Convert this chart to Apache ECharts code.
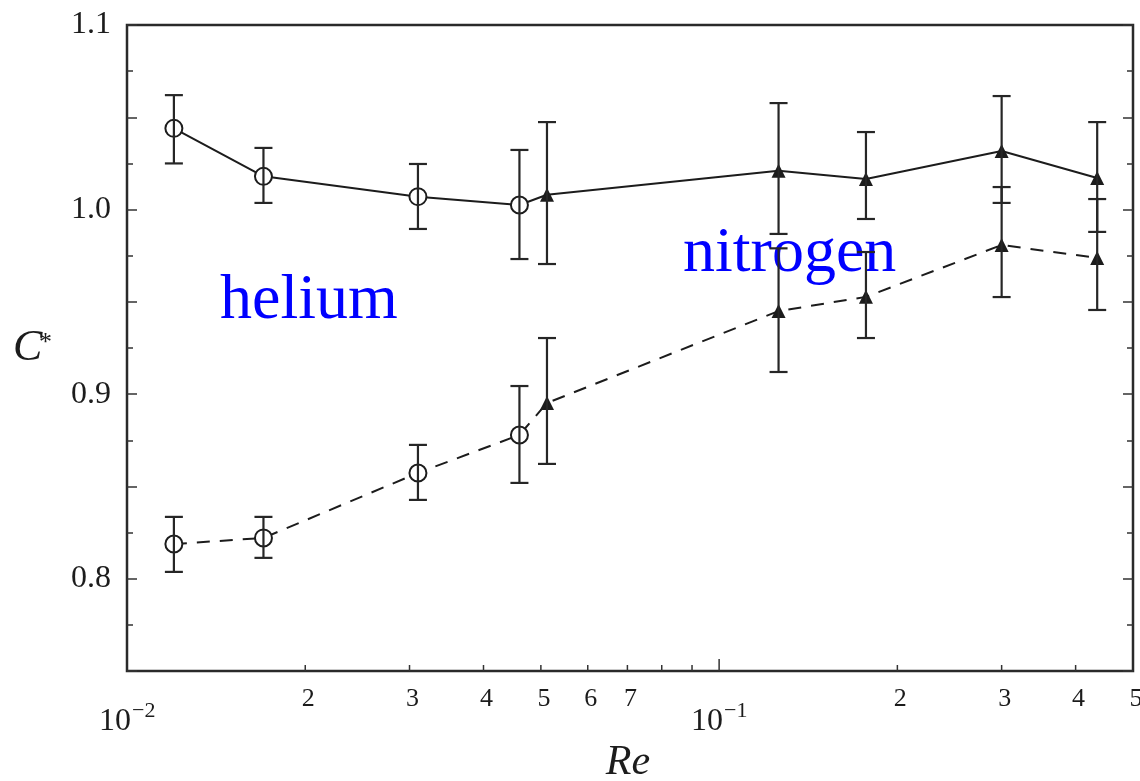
<!DOCTYPE html>
<html>
<head>
<meta charset="utf-8">
<script src="https://cdn.jsdelivr.net/npm/echarts@6/dist/echarts.min.js"></script>
<style>
  html, body { margin: 0; padding: 0; background: #fff; }
  #container { width: 1140px; height: 781px; }
</style>
</head>
<body>
<div id="container"></div>
<script>
// --- data ---
var reVals = [0.012, 0.017, 0.031, 0.046, 0.0512, 0.126, 0.177, 0.30, 0.435];
var heliumCount = 4; // first 4 points are helium (circles), rest nitrogen (triangles)

var upperC = [1.044, 1.018, 1.007, 1.0025, 1.008, 1.021, 1.0166, 1.0317, 1.0171];
var upperLow = [1.025, 1.0036, 0.9895, 0.9732, 0.9705, 0.9868, 0.9949, 1.0036, 0.9879];
var upperHigh = [1.062, 1.0334, 1.0247, 1.0323, 1.0474, 1.0577, 1.042, 1.0615, 1.0474];

var lowerC = [0.8188, 0.8221, 0.8573, 0.8779, 0.8952, 0.945, 0.9527, 0.9808, 0.9738];
var lowerLow = [0.8037, 0.8113, 0.8427, 0.8519, 0.8622, 0.912, 0.9304, 0.9526, 0.9456];
var lowerHigh = [0.8335, 0.8335, 0.8725, 0.9044, 0.9304, 0.979, 0.977, 1.0122, 1.0057];

// axis ticks / labels
var xMin = 0.01, xMax = 0.5;
var yMin = 0.75, yMax = 1.1;
var yLabelVals = [0.8, 0.9, 1.0, 1.1];
var xMinorTicks = [0.02, 0.03, 0.04, 0.05, 0.06, 0.07, 0.08, 0.09, 0.2, 0.3, 0.4];
var xDecadeTicks = [0.1];
var xMinorLabelVals = [0.02, 0.03, 0.04, 0.05, 0.06, 0.07, 0.2, 0.3, 0.4, 0.5];
var xMinorLabels = ["2", "3", "4", "5", "6", "7", "2", "3", "4", "5"];
var xDecadeLabelVals = [0.01, 0.1];
var xDecadeExp = ["\u22122", "\u22121"];

var serif = "'Liberation Serif', 'DejaVu Serif', serif";
var ink = "#1c1c1c";

function pts(ys) {
  return reVals.map(function (x, i) { return [x, ys[i]]; });
}
function bars(lo, hi) {
  return reVals.map(function (x, i) { return [x, lo[i], hi[i]]; });
}
function markerFor(v, p) {
  return p.dataIndex < heliumCount ? "emptyCircle" : "triangle";
}
function sizeFor(v, p) {
  return p.dataIndex < heliumCount ? 17 : 14;
}

function errorBar(params, api) {
  var x = api.value(0);
  var lo = api.coord([x, api.value(1)]);
  var hi = api.coord([x, api.value(2)]);
  var w = 9;
  var st = { stroke: "#262626", lineWidth: 2.2 };
  return {
    type: "group",
    children: [
      { type: "line", shape: { x1: lo[0], y1: lo[1], x2: hi[0], y2: hi[1] }, style: st },
      { type: "line", shape: { x1: hi[0] - w, y1: hi[1], x2: hi[0] + w, y2: hi[1] }, style: st },
      { type: "line", shape: { x1: lo[0] - w, y1: lo[1], x2: lo[0] + w, y2: lo[1] }, style: st }
    ]
  };
}

function tickItem(len) {
  return function (params, api) {
    var p = api.coord([api.value(0), yMin]);
    return {
      type: "line",
      shape: { x1: p[0], y1: p[1], x2: p[0], y2: p[1] - len },
      style: { stroke: "#333", lineWidth: 1.5 }
    };
  };
}

var dom = document.getElementById("container");
var myChart = echarts.init(dom);

var option = {
  backgroundColor: "#fff",
  animation: false,
  grid: {
    left: 127, right: 7, top: 25, bottom: 110,
    show: true, borderColor: "#2a2a2a", borderWidth: 2.5
  },
  xAxis: {
    type: "log",
    logBase: 10,
    min: xMin,
    max: xMax,
    axisLine: { show: false },
    axisTick: { show: false },
    axisLabel: { show: false },
    splitLine: { show: false }
  },
  yAxis: [
    {
      type: "value",
      min: yMin,
      max: yMax,
      interval: 0.05,
      axisLine: { show: false },
      axisTick: { show: true, inside: true, length: 10, lineStyle: { color: "#333", width: 1.5 } },
      minorTick: { show: true, splitNumber: 2, length: 6, lineStyle: { color: "#333", width: 1.5 } },
      splitLine: { show: false },
      axisLabel: {
        margin: 16,
        color: ink,
        fontFamily: serif,
        fontSize: 32,
        formatter: function (v) {
          for (var i = 0; i < yLabelVals.length; i++) {
            if (Math.abs(v - yLabelVals[i]) < 1e-6) return yLabelVals[i].toFixed(1);
          }
          return "";
        }
      }
    },
    {
      type: "value",
      position: "right",
      min: yMin,
      max: yMax,
      interval: 0.05,
      axisLine: { show: false },
      axisTick: { show: true, inside: true, length: 10, lineStyle: { color: "#333", width: 1.5 } },
      minorTick: { show: true, splitNumber: 2, length: 6, lineStyle: { color: "#333", width: 1.5 } },
      splitLine: { show: false },
      axisLabel: { show: false }
    }
  ],
  graphic: [
    { type: "text", left: 220, top: 269, style: { text: "helium", font: "64px " + serif, fill: "#0000ff" } },
    { type: "text", left: 683, top: 222, style: { text: "nitrogen", font: "64px " + serif, fill: "#0000ff" } },
    { type: "text", x: 628, y: 763, style: { text: "Re", font: "italic 42px " + serif, fill: ink, align: "center", verticalAlign: "middle" } },
    { type: "text", x: 13, y: 348, style: { text: "C", font: "italic 44px " + serif, fill: ink, align: "left", verticalAlign: "middle" } },
    { type: "text", x: 39, y: 343, style: { text: "*", font: "26px " + serif, fill: ink, align: "left", verticalAlign: "middle" } }
  ],
  series: [
    {
      name: "C* upper",
      type: "line",
      data: pts(upperC),
      symbol: markerFor,
      symbolSize: sizeFor,
      itemStyle: { color: ink, borderWidth: 2.2 },
      lineStyle: { color: ink, width: 2, type: "solid" },
      z: 3
    },
    {
      name: "C* lower",
      type: "line",
      data: pts(lowerC),
      symbol: markerFor,
      symbolSize: sizeFor,
      itemStyle: { color: ink, borderWidth: 2.2 },
      lineStyle: { color: ink, width: 2, type: [13, 10] },
      z: 3
    },
    { type: "custom", name: "err upper", data: bars(upperLow, upperHigh), renderItem: errorBar, encode: { x: 0, y: [1, 2] }, z: 4, silent: true },
    { type: "custom", name: "err lower", data: bars(lowerLow, lowerHigh), renderItem: errorBar, encode: { x: 0, y: [1, 2] }, z: 4, silent: true },
    {
      type: "custom", name: "x minor ticks", silent: true, z: 5,
      data: xMinorTicks.map(function (v) { return [v, yMin]; }),
      renderItem: tickItem(6)
    },
    {
      type: "custom", name: "x decade ticks", silent: true, z: 5,
      data: xDecadeTicks.map(function (v) { return [v, yMin]; }),
      renderItem: tickItem(12)
    },
    {
      type: "custom", name: "x minor labels", silent: true, z: 5,
      data: xMinorLabelVals.map(function (v, i) { return [v, yMin, i]; }),
      renderItem: function (params, api) {
        var p = api.coord([api.value(0), yMin]);
        return {
          type: "text",
          x: p[0] + 3, y: p[1] + 28,
          style: { text: xMinorLabels[api.value(2)], font: "26px " + serif, fill: ink, align: "center", verticalAlign: "middle" }
        };
      }
    },
    {
      type: "custom", name: "x decade labels", silent: true, z: 5,
      data: xDecadeLabelVals.map(function (v, i) { return [v, yMin, i]; }),
      renderItem: function (params, api) {
        var p = api.coord([api.value(0), yMin]);
        return {
          type: "group",
          children: [
            { type: "text", x: p[0] + 4, y: p[1] + 51, style: { text: "10", font: "32px " + serif, fill: ink, align: "right", verticalAlign: "middle" } },
            { type: "text", x: p[0] + 5, y: p[1] + 40, style: { text: xDecadeExp[api.value(2)], font: "22px " + serif, fill: ink, align: "left", verticalAlign: "middle" } }
          ]
        };
      }
    }
  ]
};

if (option && typeof option === "object") {
  myChart.setOption(option, true);
}
</script>
</body>
</html>
